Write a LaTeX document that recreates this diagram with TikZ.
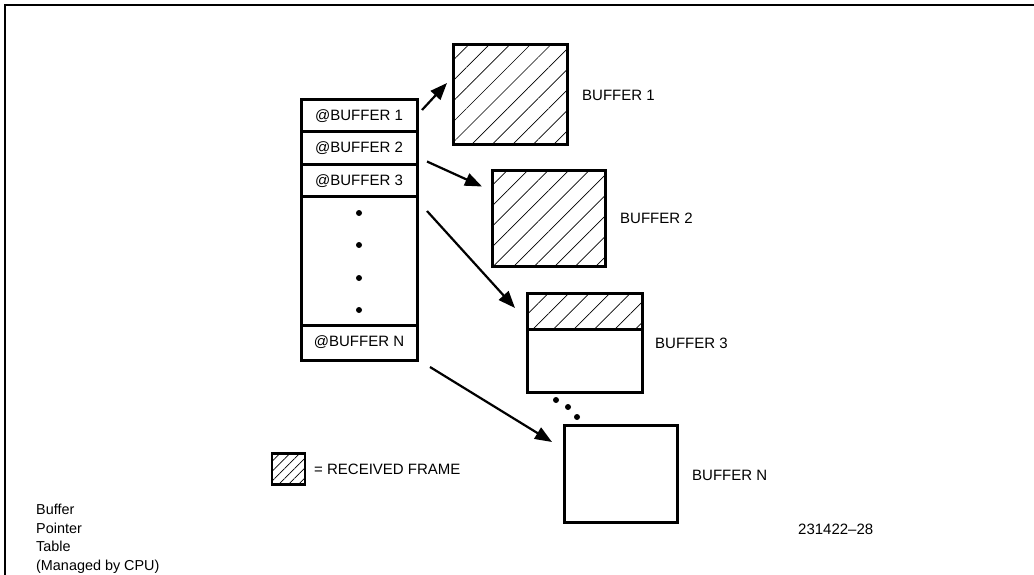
\documentclass[tikz,border=0pt]{standalone}
\usepackage{fontspec}
\setmainfont{Liberation Sans}
\usetikzlibrary{positioning,arrows.meta,patterns.meta}

\begin{document}
\begin{tikzpicture}[
    x=1pt, y=-1pt,
    font=\fontsize{15}{18}\selectfont,
    node distance=0pt,
    row/.style={draw, line width=3pt, minimum width=116pt, inner sep=0pt, outer sep=0pt},
    buf/.style={draw, line width=3pt, inner sep=0pt, outer sep=0pt},
    hatch/.style={pattern={Lines[angle=45, distance=14.5pt, line width=0.7pt]}},
    ptr/.style={-{Triangle[length=17pt, width=13pt]}, line width=2.2pt},
    lbl/.style={anchor=west, inner sep=0pt},
    blob/.style={circle, fill, inner sep=0pt, minimum size=6pt},
]
\useasboundingbox (0,0) rectangle (1034,575);

% Frame
\draw[line width=2pt] (5,575) -- (5,5) -- (1034,5);

% Pointer table
\node[row, minimum height=32pt] (row1) at (359,116) {@BUFFER 1};
\node[row, minimum height=33pt, below=of row1] (row2) {@BUFFER 2};
\node[row, minimum height=32pt, below=of row2] (row3) {@BUFFER 3};
\node[row, minimum height=128pt, below=of row3] (gap) {};
\node[row, minimum height=35pt, below=of gap] (rowN) {@BUFFER N};
\foreach \dy in {16,48,81,113}
  \node[blob] at ([shift={(0,\dy)}]gap.north) {};

% Buffers
\node[buf, hatch, minimum width=114pt, minimum height=100pt] (buf1) at (510,95) {};
\node[buf, hatch, minimum width=113pt, minimum height=96pt] (buf2) at (548.5,218.5) {};
\node[buf, hatch, minimum width=115pt, minimum height=36pt] (buf3a) at (584.5,311) {};
\node[buf, minimum width=115pt, minimum height=63pt, below=of buf3a] (buf3) {};
\node[buf, minimum width=113pt, minimum height=97pt] (bufN) at (620.5,473.5) {};
\foreach \px/\py in {556/400, 568/407, 577/417}
  \node[blob] at (\px,\py) {};

\node[lbl] (l1) at (582,95) {BUFFER 1};
\node[lbl] (l2) at (620,218) {BUFFER 2};
\node[lbl] (l3) at (655,343) {BUFFER 3};
\node[lbl] (lN) at (692,475) {BUFFER N};

% Pointers
\draw[ptr] ([shift={(5,-6)}]row1.east) -- ([shift={(-6,-12)}]buf1.west);
\draw[ptr] ([shift={(10,13)}]row2.east) -- ([shift={(-10,16)}]buf2.north west);
\draw[ptr] ([shift={(10,14)}]row3.south east) -- ([shift={(-12,15)}]buf3a.north west);
\draw[ptr] ([shift={(13,7)}]rowN.south east) -- ([shift={(-12,17)}]bufN.north west);

% Legend
\node[buf, line width=2.6pt, minimum width=33pt, minimum height=31pt,
      pattern={Lines[angle=45, distance=7pt, line width=0.7pt]}] (key) at (288.5,469) {};
\node[lbl, right=9pt of key] (keytxt) {= RECEIVED FRAME};

% Caption and figure number
\node[anchor=north west, align=left, inner sep=0pt,
      font=\fontsize{14.4}{18.5}\selectfont] (cap) at (36,504)
  {Buffer\\Pointer\\Table\\(Managed by CPU)};
\node[lbl] (fig) at (798,529) {231422--28};

\end{tikzpicture}
\end{document}
